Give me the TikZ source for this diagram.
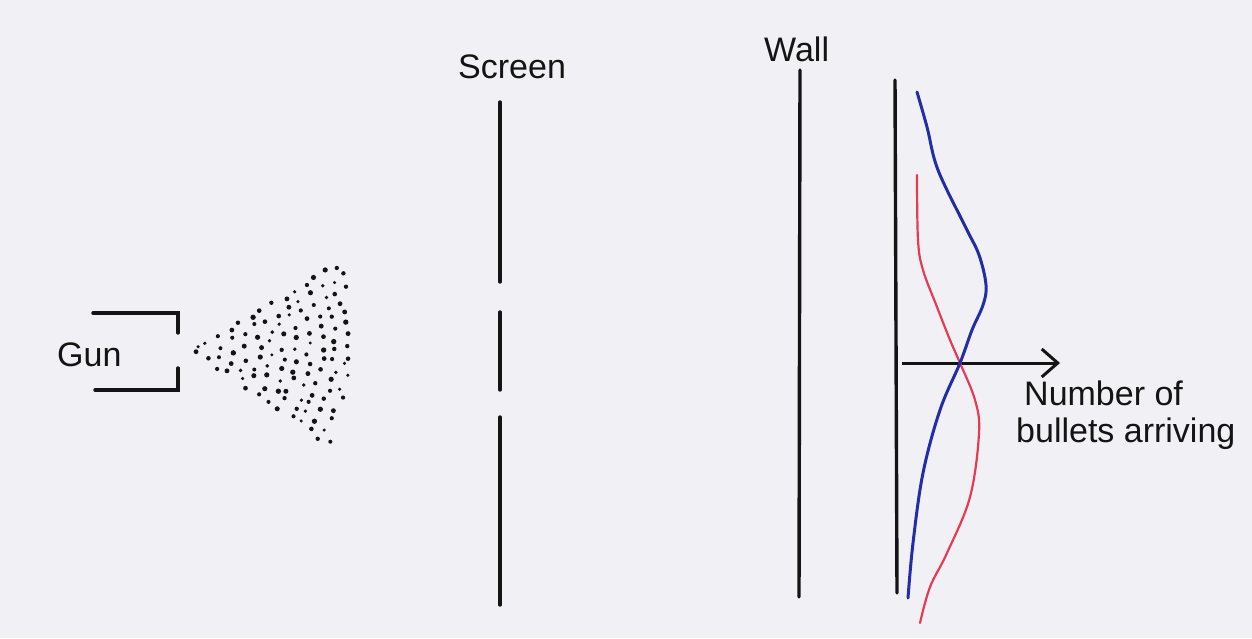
\documentclass[tikz,border=0pt]{standalone}
\usepackage{fontspec}
\setmainfont{Liberation Sans}
\usetikzlibrary{arrows.meta}
\definecolor{bg}{RGB}{241,241,245}
\definecolor{penblue}{RGB}{35,45,165}
\definecolor{penred}{RGB}{228,60,85}
\definecolor{ink}{RGB}{20,20,20}
\begin{document}
\begin{tikzpicture}[x=1pt,y=-1pt,
  inkline/.style={line width=3.4pt, ink, line cap=round},
  lbl/.style={font=\fontsize{34}{37}\selectfont, inner sep=0pt, anchor=base west, text=ink},
  dot/.style={fill=ink}]
\fill[bg] (0,0) rectangle (1252,638);
\useasboundingbox (0,0) rectangle (1252,638);

% labels
\node[lbl] (gunlbl) at (57,366) {Gun};
\node[lbl] (screenlbl) at (458,78) {Screen};
\node[lbl] (walllbl) at (764,61) {Wall};
\node[lbl] (numlbl) at (1024,405) {Number of};
\node[lbl] (bullbl) at (1016,442) {bullets arriving};

% gun
\coordinate (g1) at (93,313);
\coordinate (g2) at (178,313);
\coordinate (g3) at (178,333);
\coordinate (g4) at (178,368);
\coordinate (g5) at (178,390);
\coordinate (g6) at (95,390);
\draw[inkline] (g1) -- (g2) -- (g3);
\draw[inkline] (g4) -- (g5) -- (g6);

% spray of bullets: jittered rows fanning out from the muzzle
\pgfmathsetseed{5}
\foreach \k in {0,...,13}{
  \pgfmathsetmacro\rk{10+12.6*\k}
  \pgfmathtruncatemacro\nn{max(2,round(\rk*1.152/11))}
  \foreach \j in {1,...,\nn}{
    \pgfmathsetmacro\aa{-31+66*(\j-0.5+0.6*(rnd-0.5))/\nn}
    \pgfmathsetmacro\rj{\rk+6*(rnd-0.5)}
    \pgfmathsetmacro\px{186+\rj*cos(\aa)}
    \pgfmathsetmacro\py{350+\rj*sin(\aa)}
    \pgfmathsetmacro\ds{1.7+1*rnd}
    \pgfmathtruncatemacro\keep{(\px<351)&&(\px<340+(\py-258)*0.3)&&(\px<330+(445-\py)*0.3) ? 1 : 0}
    \ifnum\keep=1
      \fill[dot] (\px,\py) circle (\ds);
    \fi
  }
}

% screen with two slits
\coordinate (s1) at (500,102);
\coordinate (s2) at (500,282);
\coordinate (s3) at (500,312);
\coordinate (s4) at (500,390);
\coordinate (s5) at (500,417);
\coordinate (s6) at (500,605);
\draw[inkline] (s1) -- (s2);
\draw[inkline] (s3) -- (s4);
\draw[inkline] (s5) -- (s6);

% wall
\coordinate (w1) at (800,70);
\coordinate (w2) at (799,597);
\draw[inkline] (w1) -- (w2);

% axis of the graph
\coordinate (a1) at (895,80);
\coordinate (a2) at (897,593);
\draw[inkline] (a1) -- (a2);
\coordinate (h1) at (902,363);
\coordinate (h2) at (1060,363);
\draw[line width=3pt, ink, -{Straight Barb[length=16pt,width=28pt,line width=3pt]}] (h1) -- (h2);

% distributions
\draw[penred, line width=2.2pt, line cap=round] plot[smooth, tension=0.6] coordinates {
  (917,175) (918,240) (923,270) (937,307) (950,340) (960,363) (975,400)
  (979,433) (970,497) (947,553) (930,587) (920,623)};
\draw[penblue, line width=3pt, line cap=round] plot[smooth, tension=0.6] coordinates {
  (917,92) (927,127) (938,170) (966,228) (979,255) (986,285) (983,305) (972,330)
  (960,363) (940,410) (923,473) (913,543) (908,598)};
\end{tikzpicture}
\end{document}
